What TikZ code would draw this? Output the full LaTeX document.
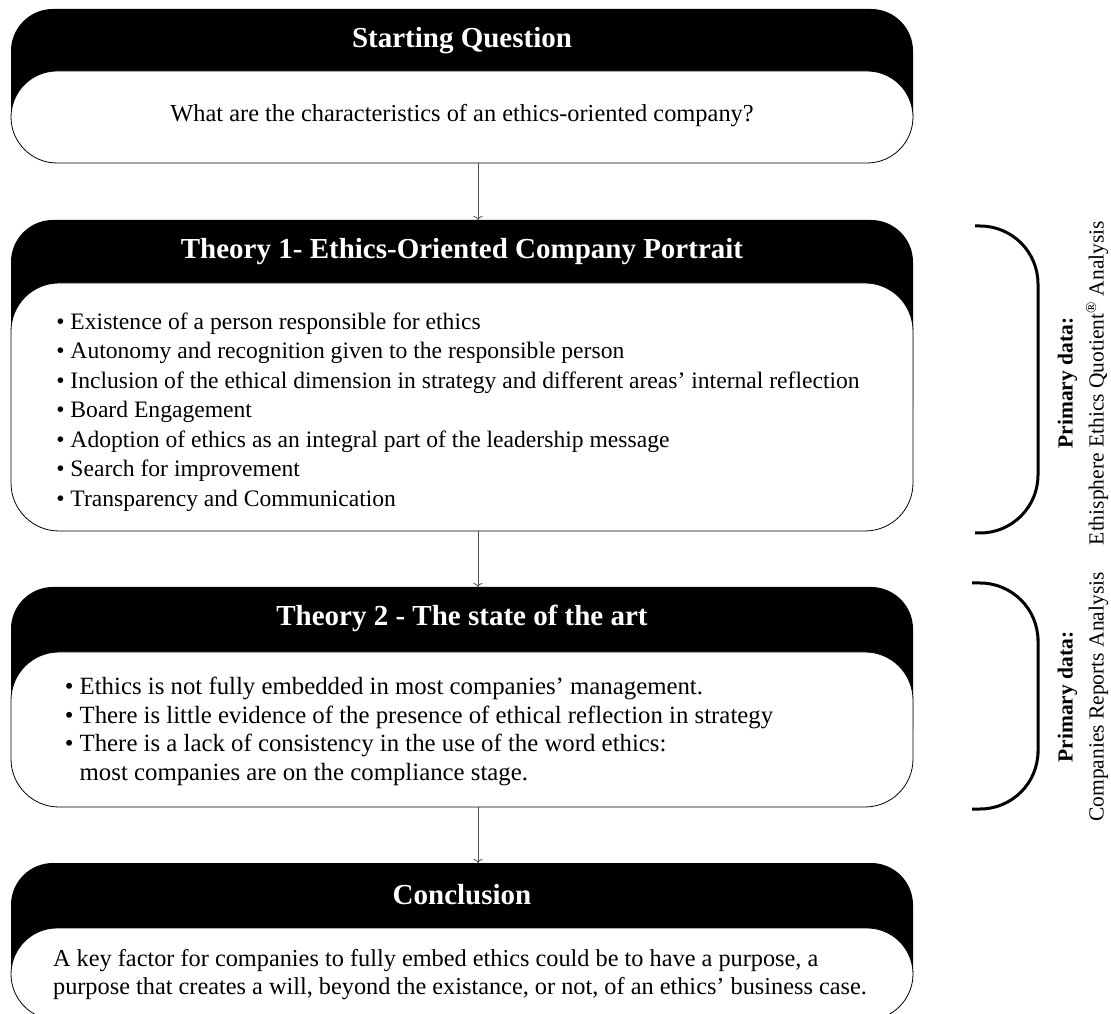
\documentclass[tikz,border=0pt]{standalone}
\usepackage{fontspec}
\setmainfont{Liberation Serif}
\usetikzlibrary{arrows.meta,positioning}

\begin{document}
\begin{tikzpicture}[x=1pt, y=1pt,
  headtxt/.style={rectangle, anchor=north, minimum width=902pt, minimum height=62pt,
                  inner sep=0pt, text=white, font=\fontsize{29}{34}\selectfont\bfseries},
  bodybox/.style={rectangle, rounded corners=48pt, draw=black, line width=0.8pt, fill=white,
                  minimum width=902pt, inner sep=0pt},
  bodytxt/.style={inner sep=0pt, align=left},
  farr/.style={-{To[length=4pt,width=9pt]}, draw=black!70, line width=0.8pt},
  brk/.style={line width=3pt, rounded corners=58pt},
  side/.style={rotate=90, align=center, font=\fontsize{21.5}{31}\selectfont}
]
\useasboundingbox (0,0) rectangle (1111,1013);

% Black header backs
\fill (11,896) -- (11,962) arc[start angle=180, end angle=90, radius=42pt] -- (871,1004)
      arc[start angle=90, end angle=0, radius=42pt] -- (913,896) -- cycle;
\fill (11,606) -- (11,751) arc[start angle=180, end angle=90, radius=42pt] -- (871,793)
      arc[start angle=90, end angle=0, radius=42pt] -- (913,606) -- cycle;
\fill (11,283) -- (11,384) arc[start angle=180, end angle=90, radius=42pt] -- (871,426)
      arc[start angle=90, end angle=0, radius=42pt] -- (913,283) -- cycle;
\fill (11,39) -- (11,108) arc[start angle=180, end angle=90, radius=42pt] -- (871,150)
      arc[start angle=90, end angle=0, radius=42pt] -- (913,39) -- cycle;

% Header titles
\node[headtxt] (h1) at (462,1004) {Starting Question};
\node[headtxt] (h2) at (462,793)  {Theory 1- Ethics-Oriented Company Portrait};
\node[headtxt] (h3) at (462,426)  {Theory 2 - The state of the art};
\node[headtxt] (h4) at (462,150)  {Conclusion};

% Body boxes
\node[bodybox, minimum height=92pt, rounded corners=46pt] (b1) at (462,896) {};
\node[bodybox, minimum height=248pt] (b2) at (462,606) {};
\node[bodybox, minimum height=155pt] (b3) at (462,283.5) {};
\node[bodybox, minimum height=92pt, rounded corners=46pt] (b4) at (462,39) {};

% Body texts
\node[bodytxt, font=\fontsize{24.4}{29}\selectfont] (t1) at ([yshift=1pt]b1.center)
  {What are the characteristics of an ethics-oriented company?};
\node[bodytxt, font=\fontsize{23.6}{29.5}\selectfont] (t2) at ([xshift=-4pt,yshift=-5pt]b2.center)
  {• Existence of a person responsible for ethics\\
   • Autonomy and recognition given to the responsible person\\
   • Inclusion of the ethical dimension in strategy and different areas’ internal reflection\\
   • Board Engagement\\
   • Adoption of ethics as an integral part of the leadership message\\
   • Search for improvement\\
   • Transparency and Communication};
\node[bodytxt, anchor=west, font=\fontsize{24.8}{28.4}\selectfont] (t3) at ([xshift=54pt,yshift=-2pt]b3.west)
  {• Ethics is not fully embedded in most companies’ management.\\
   • There is little evidence of the presence of ethical reflection in strategy\\
   • There is a lack of consistency in the use of the word ethics:\\
   \hphantom{• }most companies are on the compliance stage.};
\node[bodytxt, font=\fontsize{24.3}{28}\selectfont] (t4) at ([xshift=-2pt,yshift=-1pt]b4.center)
  {A key factor for companies to fully embed ethics could be to have a purpose, a\\
   purpose that creates a will, beyond the existance, or not, of an ethics’ business case.};

% Arrows
\draw[farr] ([xshift=16pt]b1.south) -- ([xshift=16pt]h2.north);
\draw[farr] ([xshift=16pt]b2.south) -- ([xshift=16pt]h3.north);
\draw[farr] ([xshift=16pt]b3.south) -- ([xshift=16pt]h4.north);

% Side brackets
\draw[brk] (975,787) -| (1038,633.5) |- (975,480);
\draw[brk] (972,430) -| (1038,317) |- (972,204);

% Side labels
\node[side] (s1) at (1083,630) {\textbf{Primary data:}\\Ethisphere Ethics Quotient\textsuperscript{®} Analysis};
\node[side] (s2) at (1083,316) {\textbf{Primary data:}\\Companies Reports Analysis};
\end{tikzpicture}
\end{document}
